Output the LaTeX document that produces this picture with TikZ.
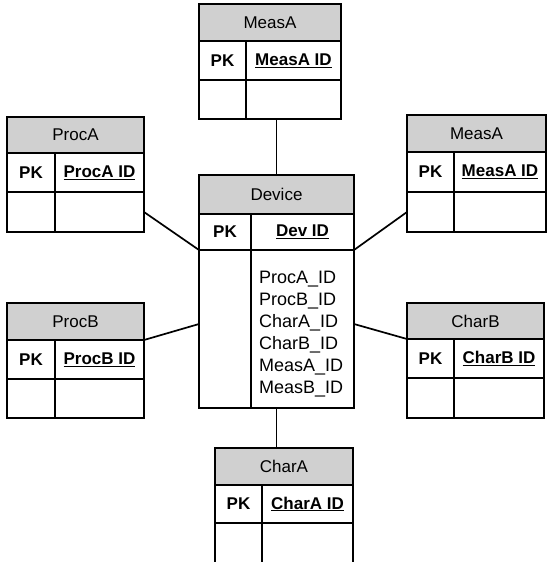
\documentclass[tikz,border=0pt]{standalone}
\usepackage{fontspec}
\setmainfont{Liberation Sans}
\definecolor{hdrgray}{RGB}{208,208,208}

\begin{document}
\begin{tikzpicture}
    [
        x=1pt, y=-1pt,
        cell/.style={draw, line width=1.7pt, anchor=north west, inner sep=0pt, outer sep=0pt,
                     font=\fontsize{17}{20}\selectfont},
        head/.style={cell, fill=hdrgray},
        pk/.style={cell, font=\fontsize{17}{20}\selectfont\bfseries},
        link/.style={line width=1.7pt},
    ]

    \clip (0,0) rectangle (547,562);

    % top MeasA
    \node (ma-hd) at (199,4)   [head, minimum width=142pt, minimum height=37pt] {MeasA};
    \node (ma-pk) at (199,41)  [pk,   minimum width=47pt,  minimum height=39pt] {PK};
    \node (ma-id) at (246,41)  [pk,   minimum width=95pt,  minimum height=39pt] {\underline{MeasA ID}};
    \node (ma-e1) at (199,80)  [cell, minimum width=47pt,  minimum height=39pt] {};
    \node (ma-e2) at (246,80)  [cell, minimum width=95pt,  minimum height=39pt] {};

    % ProcA
    \node (pa-hd) at (7,117)   [head, minimum width=137pt, minimum height=36pt] {ProcA};
    \node (pa-pk) at (7,153)   [pk,   minimum width=48pt,  minimum height=39pt] {PK};
    \node (pa-id) at (55,153)  [pk,   minimum width=89pt,  minimum height=39pt] {\underline{ProcA ID}};
    \node (pa-e1) at (7,192)   [cell, minimum width=48pt,  minimum height=40pt] {};
    \node (pa-e2) at (55,192)  [cell, minimum width=89pt,  minimum height=40pt] {};

    % right MeasA
    \node (mb-hd) at (407,115) [head, minimum width=139pt, minimum height=37pt] {MeasA};
    \node (mb-pk) at (407,152) [pk,   minimum width=47pt,  minimum height=40pt] {PK};
    \node (mb-id) at (454,152) [pk,   minimum width=92pt,  minimum height=40pt] {\underline{MeasA ID}};
    \node (mb-e1) at (407,192) [cell, minimum width=47pt,  minimum height=40pt] {};
    \node (mb-e2) at (454,192) [cell, minimum width=92pt,  minimum height=40pt] {};

    % Device
    \node (dev-hd) at (199,175) [head, minimum width=155pt, minimum height=39pt] {Device};
    \node (dev-pk) at (199,214) [pk,   minimum width=52pt,  minimum height=36pt] {PK};
    \node (dev-id) at (251,214) [pk,   minimum width=103pt, minimum height=36pt] {\underline{Dev ID}};
    \node (dev-b1) at (199,250) [cell, minimum width=52pt,  minimum height=158pt] {};
    \node (dev-b2) at (251,250) [cell, minimum width=103pt, minimum height=158pt] {};
    \node (dev-fld) at (259,271) [anchor=north west, inner sep=0pt, align=left,
                                  font=\fontsize{18}{22}\selectfont]
        {ProcA\_ID\\ProcB\_ID\\CharA\_ID\\CharB\_ID\\MeasA\_ID\\MeasB\_ID};

    % ProcB
    \node (pb-hd) at (7,303)   [head, minimum width=137pt, minimum height=37pt] {ProcB};
    \node (pb-pk) at (7,340)   [pk,   minimum width=48pt,  minimum height=39pt] {PK};
    \node (pb-id) at (55,340)  [pk,   minimum width=89pt,  minimum height=39pt] {\underline{ProcB ID}};
    \node (pb-e1) at (7,379)   [cell, minimum width=48pt,  minimum height=39pt] {};
    \node (pb-e2) at (55,379)  [cell, minimum width=89pt,  minimum height=39pt] {};

    % CharB
    \node (cb-hd) at (407,303) [head, minimum width=137pt, minimum height=36pt] {CharB};
    \node (cb-pk) at (407,339) [pk,   minimum width=47pt,  minimum height=39pt] {PK};
    \node (cb-id) at (454,339) [pk,   minimum width=90pt,  minimum height=39pt] {\underline{CharB ID}};
    \node (cb-e1) at (407,378) [cell, minimum width=47pt,  minimum height=40pt] {};
    \node (cb-e2) at (454,378) [cell, minimum width=90pt,  minimum height=40pt] {};

    % CharA
    \node (ca-hd) at (215,448) [head, minimum width=138pt, minimum height=37pt] {CharA};
    \node (ca-pk) at (215,485) [pk,   minimum width=47pt,  minimum height=38pt] {PK};
    \node (ca-id) at (262,485) [pk,   minimum width=91pt,  minimum height=38pt] {\underline{CharA ID}};
    \node (ca-e1) at (215,523) [cell, minimum width=47pt,  minimum height=50pt] {};
    \node (ca-e2) at (262,523) [cell, minimum width=91pt,  minimum height=50pt] {};

    % links
    \draw [link] (dev-hd.north) -- (dev-hd.north |- ma-e2.south);
    \draw [link] (dev-hd.north |- dev-b2.south) -- (dev-hd.north |- ca-hd.north);
    \draw [link] (pa-e2.east) -- (dev-pk.south west);
    \draw [link] (mb-e1.west) -- (dev-id.south east);
    \draw [link] (pb-hd.south east) -- ([yshift=5pt]dev-b1.west);
    \draw [link] ([yshift=5pt]dev-b2.east) -- (cb-hd.south west);
\end{tikzpicture}
\end{document}
